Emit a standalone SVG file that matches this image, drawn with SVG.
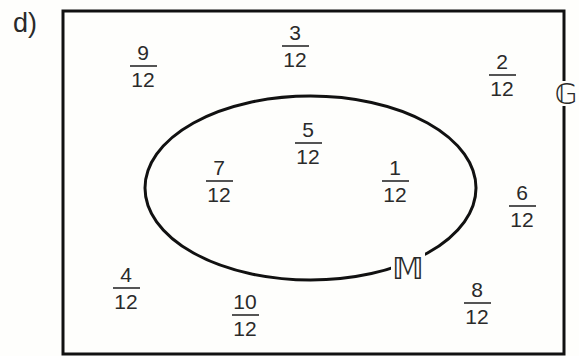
<svg xmlns="http://www.w3.org/2000/svg" width="579" height="356" viewBox="0 0 579 356">
<style>
.num{font-family:"Liberation Sans",Arial,sans-serif;font-size:21px;fill:#2a2a2a;text-anchor:middle}
.bar{stroke:#2a2a2a;stroke-width:1.6}
.line{fill:none;stroke:#111;stroke-width:3}
.sym{font-family:"DejaVu Sans",sans-serif;fill:#2a2a2a;text-anchor:middle}
</style>
<rect width="579" height="356" fill="#fefefc"/>
<text x="13" y="32" font-family="Liberation Sans, Arial, sans-serif" font-size="27" fill="#2a2a2a">d)</text>
<g id="universe">
<path class="line" d="M564 81 V11 H63 V354 H564 V106"/>
<text class="sym" x="566" y="104" font-size="29">𝔾</text>
</g>
<g id="set-M">
<ellipse class="line" cx="310.5" cy="188" rx="165.5" ry="92"/>
<rect x="391" y="252" width="34" height="30" fill="#fefefc"/>
<text class="sym" x="408" y="279" font-size="31">𝕄</text>
</g>
<g id="f9"><text class="num" x="143" y="60">9</text><line class="bar" x1="130" y1="66" x2="157" y2="66"/><text class="num" x="143" y="87">12</text></g>
<g id="f3"><text class="num" x="295" y="40">3</text><line class="bar" x1="282" y1="46" x2="309" y2="46"/><text class="num" x="295" y="67">12</text></g>
<g id="f2"><text class="num" x="502" y="69">2</text><line class="bar" x1="489" y1="75" x2="516" y2="75"/><text class="num" x="502" y="96">12</text></g>
<g id="f5"><text class="num" x="308" y="137">5</text><line class="bar" x1="295" y1="143" x2="322" y2="143"/><text class="num" x="308" y="164">12</text></g>
<g id="f7"><text class="num" x="219" y="175">7</text><line class="bar" x1="206" y1="181" x2="233" y2="181"/><text class="num" x="219" y="202">12</text></g>
<g id="f1"><text class="num" x="395" y="175">1</text><line class="bar" x1="382" y1="181" x2="409" y2="181"/><text class="num" x="395" y="202">12</text></g>
<g id="f6"><text class="num" x="522" y="200">6</text><line class="bar" x1="509" y1="206" x2="536" y2="206"/><text class="num" x="522" y="227">12</text></g>
<g id="f4"><text class="num" x="126" y="282">4</text><line class="bar" x1="113" y1="288" x2="140" y2="288"/><text class="num" x="126" y="309">12</text></g>
<g id="f10"><text class="num" x="245" y="309">10</text><line class="bar" x1="232" y1="315" x2="259" y2="315"/><text class="num" x="245" y="336">12</text></g>
<g id="f8"><text class="num" x="477" y="297">8</text><line class="bar" x1="464" y1="303" x2="491" y2="303"/><text class="num" x="477" y="324">12</text></g>
<g id="connectors"/>
</svg>
